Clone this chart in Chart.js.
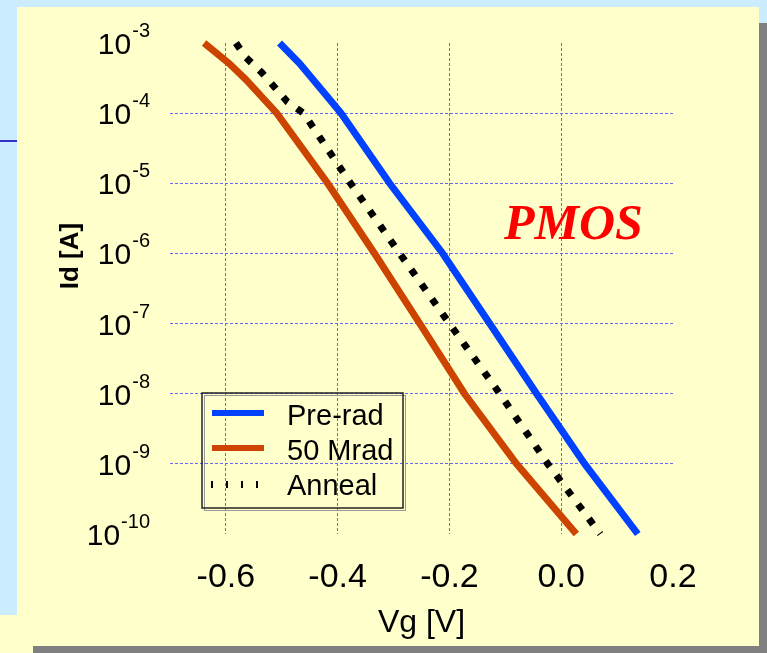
<!DOCTYPE html>
<html>
<head>
<meta charset="utf-8">
<script src="https://cdn.jsdelivr.net/npm/chart.js@4"></script>
<style>
  body { margin: 0; width: 767px; height: 653px; overflow: hidden; background: #ccecff; position: relative; }
  .blk { position: absolute; }
  #wrap { position: absolute; left: 0; top: 0; width: 767px; height: 653px; }
</style>
</head>
<body>
<div class="blk" style="left:759px;top:23px;width:8px;height:630px;background:#808080"></div>
<div class="blk" style="left:33px;top:646px;width:734px;height:7px;background:#808080"></div>
<div class="blk" style="left:17px;top:7px;width:742px;height:639px;background:#ffffcc"></div>
<div class="blk" style="left:0;top:615px;width:33px;height:38px;background:#ffffcc"></div>
<div class="blk" style="left:0;top:140px;width:17px;height:2px;background:#3333cc"></div>
<div id="wrap"><canvas id="c" width="767" height="653"></canvas></div>
<script>
// ==================== data ====================
const seriesNames = ['Pre-rad', '50 Mrad', 'Anneal'];

const vgPre = [-0.504, -0.468, -0.418, -0.394, -0.307, -0.212, -0.128, -0.044, 0.042, 0.137];
const idPre = [1e-3, 5.1e-4, 1.7e-4, 1e-4, 1e-5, 1e-6, 1e-7, 1e-8, 1e-9, 1e-10];

const vg50 = [-0.639, -0.594, -0.564, -0.509, -0.418, -0.334, -0.253, -0.173, -0.080, 0.027];
const id50 = [1e-3, 5.1e-4, 3.0e-4, 1e-4, 1e-5, 1e-6, 1e-7, 1e-8, 1e-9, 1e-10];

const vgAnn = [-0.582, -0.564, -0.536, -0.512, -0.490, -0.461, -0.377, -0.289, -0.200, -0.110, -0.024, 0.070];
const idAnn = [1e-3, 6.2e-4, 3.8e-4, 2.3e-4, 1.45e-4, 1e-4, 1e-5, 1e-6, 1e-7, 1e-8, 1e-9, 1e-10];

const xTicks = [-0.6, -0.4, -0.2, 0.0, 0.2];
const yDecades = [1e-3, 1e-4, 1e-5, 1e-6, 1e-7, 1e-8, 1e-9, 1e-10];
const yExponents = ['-3', '-4', '-5', '-6', '-7', '-8', '-9', '-10'];

const SANS = "'Liberation Sans', Arial, sans-serif";
const BLUE = '#0040ff', ORANGE = '#cc4400';
const GRID = '#6666ff';

const pts = (xs, ys) => xs.map((x, i) => ({ x: x, y: ys[i] }));

// ==================== extra drawing (ticks 10^n, titles, legend) ====================
const extras = {
  id: 'extras',
  afterDraw(chart) {
    const ctx = chart.ctx;
    const ys = chart.scales.y;
    ctx.save();
    ctx.fillStyle = '#000';
    // y tick labels with superscript
    yDecades.forEach((v, i) => {
      const py = ys.getPixelForValue(v);
      ctx.font = '20px ' + SANS;
      const ew = ctx.measureText(yExponents[i]).width;
      ctx.textAlign = 'left';
      ctx.textBaseline = 'alphabetic';
      ctx.fillText(yExponents[i], 150 - ew, py - 6);
      ctx.font = '30px ' + SANS;
      ctx.textAlign = 'right';
      ctx.fillText('10', 150 - ew - 1, py + 11);
    });

    // y axis title
    ctx.save();
    ctx.translate(78, 256);
    ctx.rotate(-Math.PI / 2);
    ctx.font = 'bold 26px ' + SANS;
    ctx.textAlign = 'center';
    ctx.textBaseline = 'alphabetic';
    ctx.fillText('Id [A]', 0, 0);
    ctx.restore();

    // PMOS label
    ctx.font = "bold italic 50px 'Liberation Serif', 'Times New Roman', serif";
    ctx.fillStyle = '#ff0000';
    ctx.textAlign = 'left';
    ctx.fillText('PMOS', 504, 239);

    // legend box
    ctx.strokeStyle = '#999';
    ctx.lineWidth = 1;
    ctx.strokeRect(204.5, 395.5, 201, 115);
    ctx.strokeStyle = '#222';
    ctx.lineWidth = 1.5;
    ctx.strokeRect(202, 393, 201, 115);

    ctx.lineCap = 'butt';
    ctx.lineWidth = 6;
    ctx.strokeStyle = BLUE;
    ctx.beginPath(); ctx.moveTo(212, 413); ctx.lineTo(264, 413); ctx.stroke();
    ctx.strokeStyle = ORANGE;
    ctx.beginPath(); ctx.moveTo(212, 448); ctx.lineTo(264, 448); ctx.stroke();
    ctx.fillStyle = '#000';
    [212, 227, 242, 257].forEach(x => ctx.fillRect(x - 1, 481, 2, 7));

    ctx.font = '29px ' + SANS;
    ctx.fillStyle = '#000';
    ctx.textAlign = 'left';
    ctx.fillText(seriesNames[0], 287, 425);
    ctx.fillText(seriesNames[1], 287, 460);
    ctx.fillText(seriesNames[2], 287, 495);
    ctx.restore();
  }
};

new Chart(document.getElementById('c'), {
  type: 'line',
  data: {
    datasets: [
      { label: seriesNames[0], data: pts(vgPre, idPre), borderColor: BLUE, borderWidth: 7, pointRadius: 0, tension: 0, clip: false },
      { label: seriesNames[1], data: pts(vg50, id50), borderColor: ORANGE, borderWidth: 7, pointRadius: 0, tension: 0, clip: false },
      { label: seriesNames[2], data: pts(vgAnn, idAnn), borderColor: '#000', borderWidth: 7, borderDash: [7, 11], borderCapStyle: 'butt', pointRadius: 0, tension: 0, clip: false }
    ]
  },
  options: {
    responsive: false, animation: false, devicePixelRatio: 1,
    layout: { padding: { left: 0, top: 43, right: 94, bottom: 0 } },
    plugins: { legend: { display: false }, tooltip: { enabled: false } },
    scales: {
      x: {
        type: 'linear', min: -0.7, max: 0.2,
        afterBuildTicks: s => { s.ticks = xTicks.map(v => ({ value: v })); },
        afterFit: s => { s.height = 119; },
        ticks: { color: '#000', font: { family: SANS, size: 34 }, padding: 23, maxRotation: 0, callback: v => Number(v).toFixed(1) },
        grid: { color: GRID, lineWidth: c => (c.tick && c.tick.value > 0.1 ? 0 : 1), drawTicks: false },
        border: { display: false, dash: [3, 2] },
        title: { display: true, text: 'Vg [V]', color: '#000', font: { family: SANS, size: 32 }, padding: { top: 0, bottom: 11 } }
      },
      y: {
        type: 'logarithmic', min: 1e-10, max: 1e-3,
        afterBuildTicks: s => { s.ticks = yDecades.map(v => ({ value: v })); },
        afterFit: s => { s.width = 170; },
        ticks: { display: false },
        grid: { color: GRID, lineWidth: c => (c.tick && (c.tick.value >= 9e-4 || c.tick.value <= 1.1e-10) ? 0 : 1), drawTicks: false },
        border: { display: false, dash: [3, 2] }
      }
    }
  },
  plugins: [extras]
});
</script>
</body>
</html>
